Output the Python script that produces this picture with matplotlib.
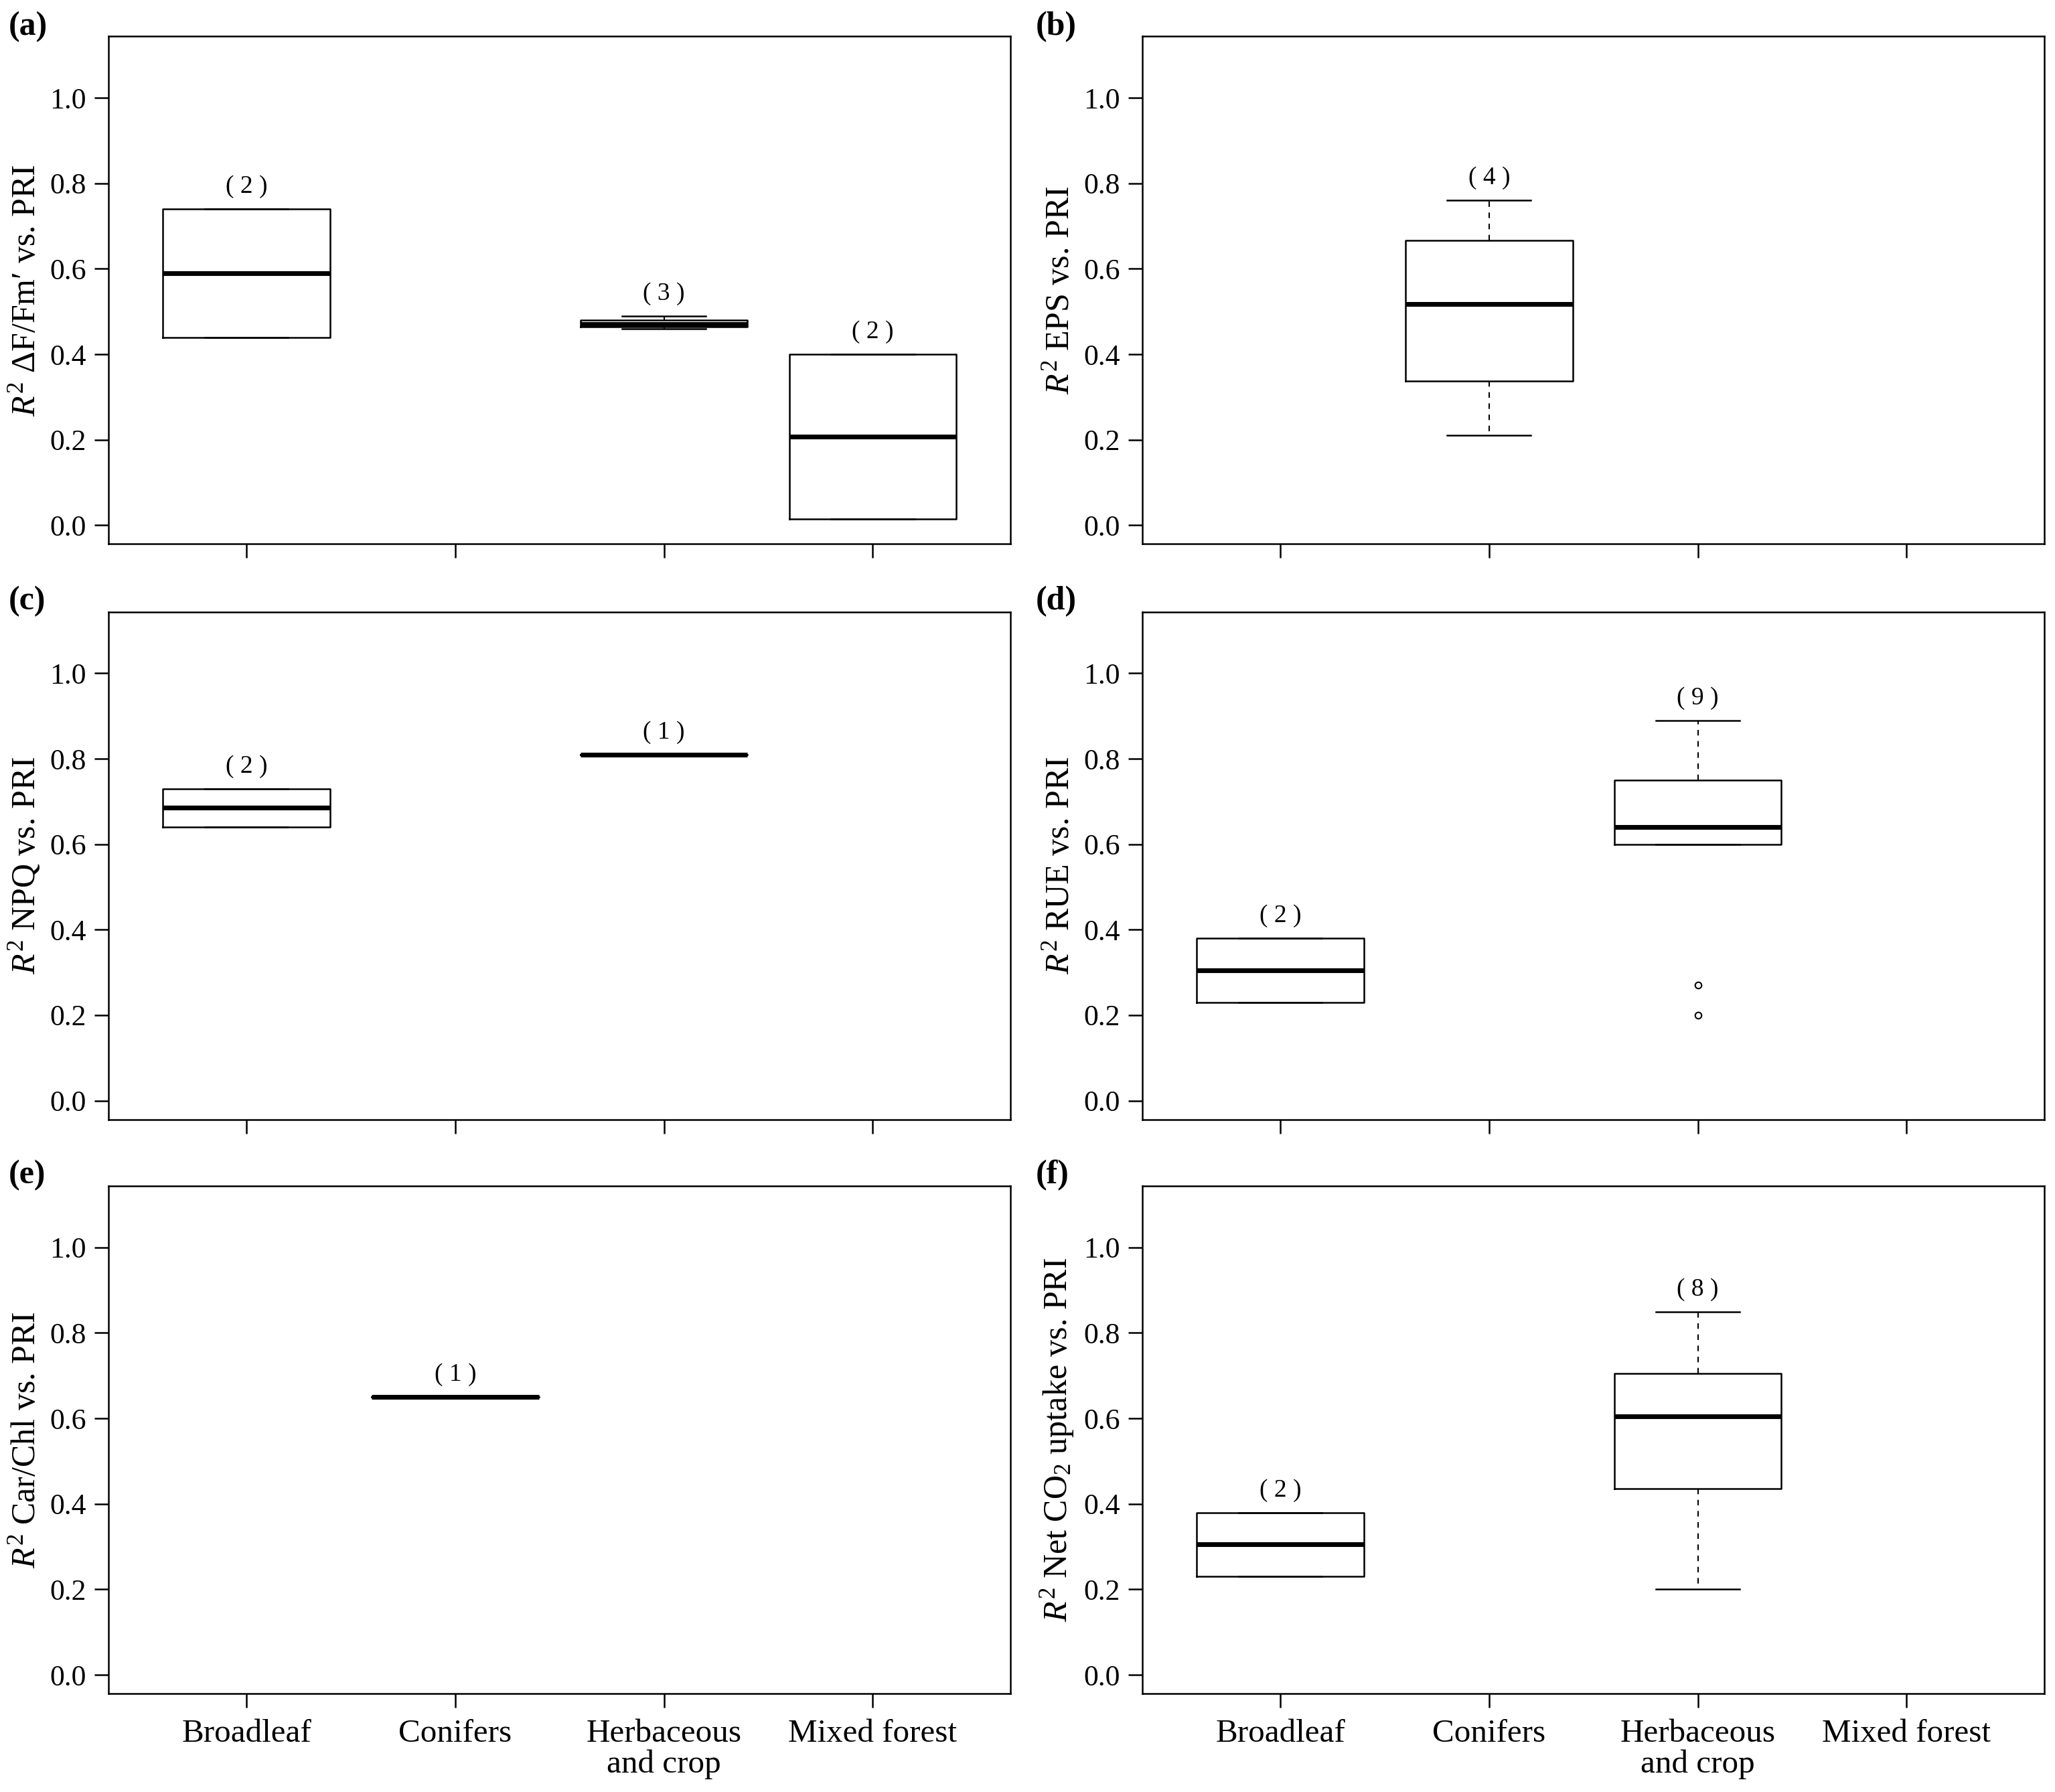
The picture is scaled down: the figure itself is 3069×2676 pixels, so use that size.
import numpy as np
import matplotlib
matplotlib.use('Agg')
import matplotlib.pyplot as plt

plt.rcParams['font.family'] = ['Liberation Serif', 'DejaVu Serif']
plt.rcParams['mathtext.fontset'] = 'custom'
plt.rcParams['mathtext.rm'] = 'Liberation Serif'
plt.rcParams['mathtext.it'] = 'Liberation Serif:italic'

categories = ['Broadleaf', 'Conifers', 'Herbaceous\nand crop', 'Mixed forest']

# R^2 values per vegetation type (empty list = no study)
dfm_pri = [[0.44, 0.74], [], [0.46, 0.47, 0.49], [0.015, 0.40]]
eps_pri = [[], [0.21, 0.464, 0.572, 0.76], [], []]
npq_pri = [[0.64, 0.73], [], [0.81], []]
rue_pri = [[0.23, 0.38], [], [0.20, 0.27, 0.60, 0.62, 0.64, 0.70, 0.75, 0.80, 0.89], []]
carchl_pri = [[], [0.65], [], []]
co2_pri = [[0.23, 0.38], [], [0.20, 0.40, 0.47, 0.58, 0.63, 0.68, 0.73, 0.85], []]

panels = ['(a)', '(b)', '(c)', '(d)', '(e)', '(f)']
ylabels = [r'$\mathit{R}^{2}$ ΔF/Fm′ vs. PRI',
           r'$\mathit{R}^{2}$ EPS vs. PRI',
           r'$\mathit{R}^{2}$ NPQ vs. PRI',
           r'$\mathit{R}^{2}$ RUE vs. PRI',
           r'$\mathit{R}^{2}$ Car/Chl vs. PRI',
           r'$\mathit{R}^{2}$ Net CO$_2$ uptake vs. PRI']
datasets = [dfm_pri, eps_pri, npq_pri, rue_pri, carchl_pri, co2_pri]


def fivenum(v):
    # Tukey hinges, like R's boxplot
    v = np.sort(np.asarray(v, dtype=float))
    n = len(v)
    n4 = np.floor((n + 3) / 2) / 2
    d = np.array([1, n4, (n + 1) / 2, n + 1 - n4, n]) - 1
    return 0.5 * (v[np.floor(d).astype(int)] + v[np.ceil(d).astype(int)])


def box_stats(v):
    v = np.asarray(v, dtype=float)
    mn, q1, med, q3, mx = fivenum(v)
    iqr = q3 - q1
    inside = v[(v >= q1 - 1.5 * iqr) & (v <= q3 + 1.5 * iqr)]
    return dict(med=med, q1=q1, q3=q3, whislo=inside.min(), whishi=inside.max(),
                fliers=v[(v < q1 - 1.5 * iqr) | (v > q3 + 1.5 * iqr)])


fig = plt.figure(figsize=(3069 / 300, 2676 / 300), dpi=300)

lefts = [0.0529, 0.556]
width = 0.4388
bottoms = [0.6964, 0.3753, 0.0549]
height = 0.2833

for i, data in enumerate(datasets):
    row, col = divmod(i, 2)
    ax = fig.add_axes([lefts[col], bottoms[row], width, height])
    pos = [k + 1 for k, v in enumerate(data) if len(v) > 0]
    stats = [box_stats(v) for v in data if len(v) > 0]
    ax.bxp(stats, positions=pos, widths=0.8, capwidths=0.4,
           boxprops=dict(color='black', linewidth=0.6),
           whiskerprops=dict(color='black', linewidth=0.5, linestyle=(0, (4, 4))),
           capprops=dict(color='black', linewidth=0.6),
           medianprops=dict(color='black', linewidth=1.7, solid_capstyle='butt'),
           flierprops=dict(marker='o', markerfacecolor='none', markeredgecolor='black',
                           markersize=2.3, markeredgewidth=0.5))
    for p, v, s in zip(pos, [v for v in data if len(v) > 0], stats):
        top = max(s['whishi'], s['fliers'].max() if len(s['fliers']) else s['whishi'])
        ax.text(p, top + 0.052, f'( {len(v)} )', ha='center', va='center', fontsize=9)

    ax.set_xlim(0.34, 4.66)
    ax.set_ylim(-0.044, 1.144)
    ax.set_yticks(np.arange(0, 1.01, 0.2))
    ax.set_yticklabels([f'{t:.1f}' for t in np.arange(0, 1.01, 0.2)])
    ax.set_xticks([1, 2, 3, 4])
    ax.tick_params(direction='out', length=5, width=0.6, labelsize=10.5, pad=3)
    ax.tick_params(axis='x', pad=4, labelsize=11.8)
    if row == 2:
        ax.set_xticklabels(categories, linespacing=1.05)
    else:
        ax.set_xticklabels([])
    for sp in ax.spines.values():
        sp.set_linewidth(0.6)
    ax.set_ylabel(ylabels[i], fontsize=12)
    ax.yaxis.set_label_coords(-0.074, 0.5)
    fig.text(0.004 + 0.5 * col, 0.985 - row * 0.3205, panels[i], fontsize=12,
             fontweight='bold', ha='left', va='center')

fig.savefig('out.png', dpi=300)
